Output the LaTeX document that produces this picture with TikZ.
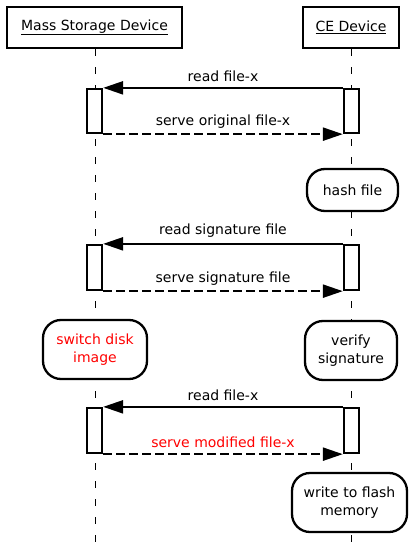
\documentclass[tikz,border=0pt]{standalone}
\usepackage{fontspec}
\setmainfont{DejaVu Sans}
\usetikzlibrary{arrows.meta}
\definecolor{alert}{RGB}{255,0,0}
\begin{document}
\begin{tikzpicture}[x=1pt,y=-1pt,
  every node/.style={font=\fontsize{14}{18}\selectfont, inner sep=0pt, align=center},
  header/.style={draw, line width=2.3pt, fill=white, minimum height=41pt},
  action/.style={draw, line width=2.3pt, fill=white, rounded corners=18pt},
  activation/.style={draw, line width=2.3pt, fill=white, minimum width=15pt},
  lifeline/.style={line width=0.9pt, dash pattern=on 7pt off 11pt},
  call/.style={line width=2.3pt, -{Triangle[length=20pt,width=13pt]}},
  reply/.style={line width=2.3pt, dash pattern=on 9pt off 4pt, -{Triangle[length=20pt,width=13pt]}},
  msg/.style={above=5pt}]
\useasboundingbox (0,0) rectangle (408,551);

% participants
\node[header, minimum width=175pt] (msd) at (94.5,27.5) {\underline{Mass Storage Device}};
\node[header, minimum width=96pt] (ce) at (351,27.5) {\underline{CE Device}};
\coordinate (msdend) at (95,551);
\coordinate (ceend) at (351,551);

% lifelines
\draw[lifeline] (msd.south -| msdend) -- (msdend);
\draw[lifeline] (ce.south) -- (ceend);

% first exchange
\node[activation, minimum height=44pt] (m1) at (94.5,111) {};
\node[activation, minimum height=44pt] (c1) at (351.5,111) {};
\draw[call] (c1.north west) -- node[msg] {read file-x} (m1.north east);
\draw[reply] (m1.south east) -- node[msg] {serve original file-x} (c1.south west);

\node[action, minimum width=91pt, minimum height=42pt] (hash) at (352.5,190) {hash file};

% second exchange
\node[activation, minimum height=45pt] (m2) at (94.5,267.5) {};
\node[activation, minimum height=45pt] (c2) at (351.5,267.5) {};
\draw[call] (c2.north west) -- node[msg] {read signature file} (m2.north east);
\draw[reply] (m2.south east) -- node[msg] {serve signature file} (c2.south west);

\node[action, minimum width=104pt, minimum height=59pt, text=alert] (switch) at (95,349.5) {switch disk\\image};
\node[action, minimum width=92pt, minimum height=59pt] (verify) at (351,350.5) {verify\\signature};

% third exchange
\node[activation, minimum height=45pt] (m3) at (94.5,430.5) {};
\node[activation, minimum height=45pt] (c3) at (351.5,430.5) {};
\draw[call] (c3.north west) -- node[msg] {read file-x} (m3.north east);
\draw[reply] (m3.south east) -- node[msg, text=alert] {serve modified file-x} (c3.south west);

\node[action, minimum width=115pt, minimum height=59pt] (flash) at (349.5,502.5) {write to flash\\memory};
\end{tikzpicture}
\end{document}
